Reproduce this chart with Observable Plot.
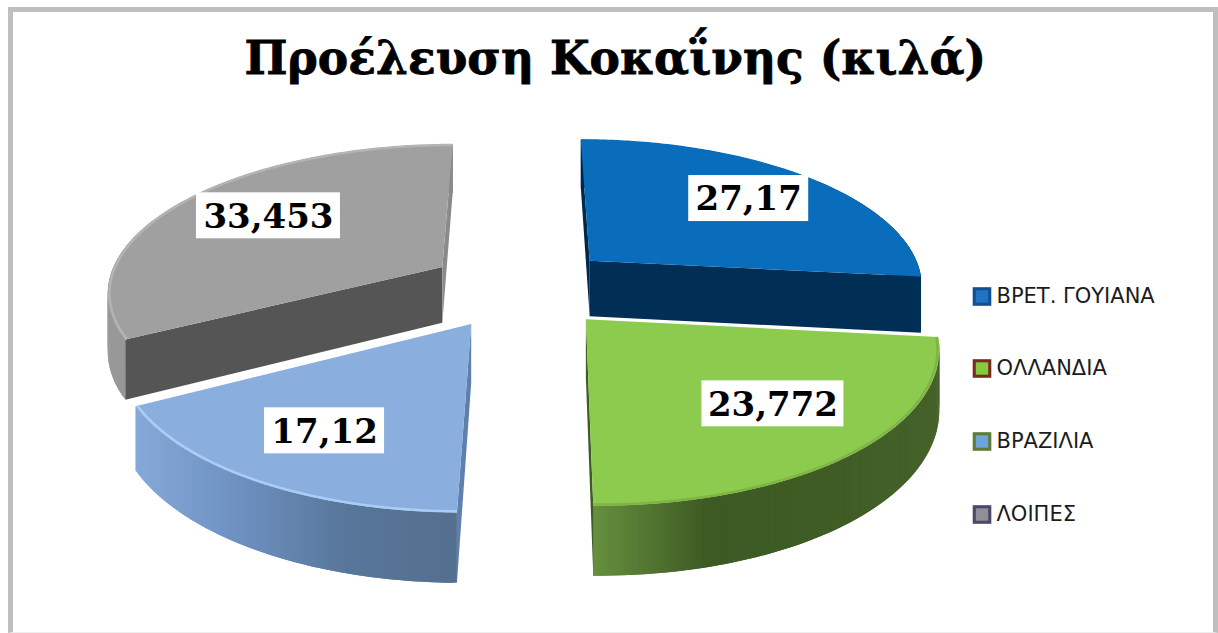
<!DOCTYPE html>
<html lang="el"><head><meta charset="utf-8">
<script src="https://cdn.jsdelivr.net/npm/d3@7"></script>
<script src="https://cdn.jsdelivr.net/npm/@observablehq/plot@0.6"></script>
<style>
html,body{margin:0;padding:0;background:#fff}
#wrap{position:relative;width:1218px;height:633px;overflow:hidden;background:#fff}
#frame{position:absolute;left:8px;top:7px;right:0;bottom:0;border:5px solid #bfbfbf;border-bottom:1px solid #eeeeee;pointer-events:none;z-index:2}
#title{height:130px;box-sizing:border-box;padding-top:30px;text-align:center;font:bold 47px "DejaVu Serif";color:#000;-webkit-text-stroke:.8px #000;position:relative;left:6px;white-space:nowrap}
#title span{display:inline-block;transform:scaleX(.97)}
</style></head><body>
<div id="wrap"><div id="frame"></div><div id="title"><span>Προέλευση Κοκαΐνης (κιλά)</span></div><div id="chart"></div></div>
<script>
const sliceNames = ["ΒΡΕΤ. ΓΟΥΙΑΝΑ", "ΒΡΑΖΙΛΙΑ", "ΟΛΛΑΝΔΙΑ", "ΛΟΙΠΕΣ"];
const sliceValues = [27.17, 23.772, 17.12, 33.453];
const sliceLabels = ["27,17", "23,772", "17,12", "33,453"];
const legendNames = ["ΒΡΕΤ. ΓΟΥΙΑΝΑ", "ΟΛΛΑΝΔΙΑ", "ΒΡΑΖΙΛΙΑ", "ΛΟΙΠΕΣ"];
const legendOuter = ["#12508f", "#7a2a22", "#5f7a3a", "#4f4568"];
const legendInner = ["#1f74c4", "#84cc3e", "#6ea4dc", "#8f8f98"];
const legendY = [296, 368, 441, 514];

// styles per slice
const topColors = ["#0a6dbb", "#8ccb4e", "#8aaede", "#a0a0a0"];
const rimColors = ["#0a6dbb", "#7fb546", "#a9cdf4", "#b4b4b4"];
const startWall = ["#00284a", null, "#5f80ad", "#555555"];
const endWall   = ["#002e54", "#3f5c25", null, "#8a8a8a"];
const sideStops = [["#002e54","#002e54"], ["#67913e","#3d5a24","#3e5c24","#44622a"], ["#86a9d8","#6c90bf","#587699","#54708f"], ["#999999","#848484","#8e8e8e"]];
const labelFrac = [0.72, 0.72, 0.71, 0.66];
const labelShift = [0, -8, 0, -6];
const labelW = [120, 142, 120, 144];

// projection of a tilted disc
const cx = 521, cy = 287, Rx = 336, Ry = 147, persp = 0.153, depth = 57, explode = 0.28;
const proj = (X, Y, Z = 0) => { const w = 1 - persp * Y; return {x: cx + Rx * X / w, y: cy + (Ry * Y + Z) / w}; };

const arcs = d3.pie().sort(null).value(d => d)(sliceValues);
const marks = [];
arcs.forEach((a, i) => {
  const mid = (a.startAngle + a.endAngle) / 2;
  const ox = explode * Math.sin(mid), oy = -explode * Math.cos(mid);
  const pt = (t, f = 1, Z = 0) => proj(ox + f * Math.sin(t), oy - f * Math.cos(t), Z);
  const n = 120;
  const ts = d3.range(n + 1).map(k => a.startAngle + (a.endAngle - a.startAngle) * k / n);
  const walls = [];
  const shade = d3.piecewise(d3.interpolateRgb, sideStops[i]);
  const xs = ts.map(t => pt(t).x), xLo = d3.min(xs), xHi = d3.max(xs);
  ts.slice(0, -1).forEach((t, k) => {
    const f = shade((pt(t).x - xLo) / (xHi - xLo));
    const t2 = ts[Math.min(k + 2, n)];
    [pt(t), pt(t2), pt(t2, 1, depth), pt(t, 1, depth)].forEach(p => walls.push({...p, k: "c" + k, f}));
  });
  [[a.startAngle, startWall[i], "s"], [a.endAngle, endWall[i], "e"]].forEach(([t, f, k]) => {
    if (f) [pt(t, 0), pt(t), pt(t, 1, depth), pt(t, 0, depth)].forEach(p => walls.push({...p, k, f}));
  });
  const top = [pt(0, 0), ...ts.map(t => pt(t))];
  const rim = ts.map(t => pt(t, 0.995));
  marks.push(
    Plot.line(walls, {x: "x", y: "y", z: "k", fill: "f", stroke: "none", curve: "linear"}),
    Plot.line(top, {x: "x", y: "y", fill: topColors[i], stroke: "none", curve: "linear"}),
    Plot.line(rim, {x: "x", y: "y", stroke: rimColors[i], strokeWidth: 2.5, strokeLinecap: "butt", curve: "linear"})
  );
});

const labels = arcs.map((a, i) => {
  const mid = (a.startAngle + a.endAngle) / 2;
  const ox = explode * Math.sin(mid), oy = -explode * Math.cos(mid), f = labelFrac[i];
  const p = proj(ox + f * Math.sin(mid), oy - f * Math.cos(mid));
  return {x: p.x, y: p.y + labelShift[i], label: sliceLabels[i], w: labelW[i]};
});

const legend = legendNames.map((name, i) => ({name, y: legendY[i], outer: legendOuter[i], inner: legendInner[i]}));

const chart = Plot.plot({
  width: 1218, height: 503,
  marginTop: 0, marginRight: 0, marginBottom: 0, marginLeft: 0,
  x: {type: "linear", domain: [0, 1218], range: [0, 1218], axis: null},
  y: {type: "linear", domain: [130, 633], range: [0, 503], axis: null},
  color: {type: "identity"},
  style: {background: "transparent", overflow: "visible"},
  marks: [
    ...marks,
    Plot.rect(labels, {x1: d => d.x - d.w / 2, x2: d => d.x + d.w / 2, y1: d => d.y - 23, y2: d => d.y + 23, fill: "#fff"}),
    Plot.text(labels, {x: "x", y: "y", text: "label", fontFamily: "DejaVu Serif", fontWeight: "bold", fontSize: 34, fill: "#000", dy: 1}),
    Plot.dot(legend, {x: 981.5, y: "y", symbol: "square", r: 10.5, fill: "outer", stroke: null}),
    Plot.dot(legend, {x: 981.5, y: "y", symbol: "square", r: 7, fill: "inner", stroke: null}),
    Plot.text(legend, {x: 996, y: "y", text: "name", textAnchor: "start", fontFamily: "DejaVu Sans", fontSize: 21, fill: "#1c1c1c"})
  ]
});
document.getElementById("chart").appendChild(chart);
</script></body></html>
